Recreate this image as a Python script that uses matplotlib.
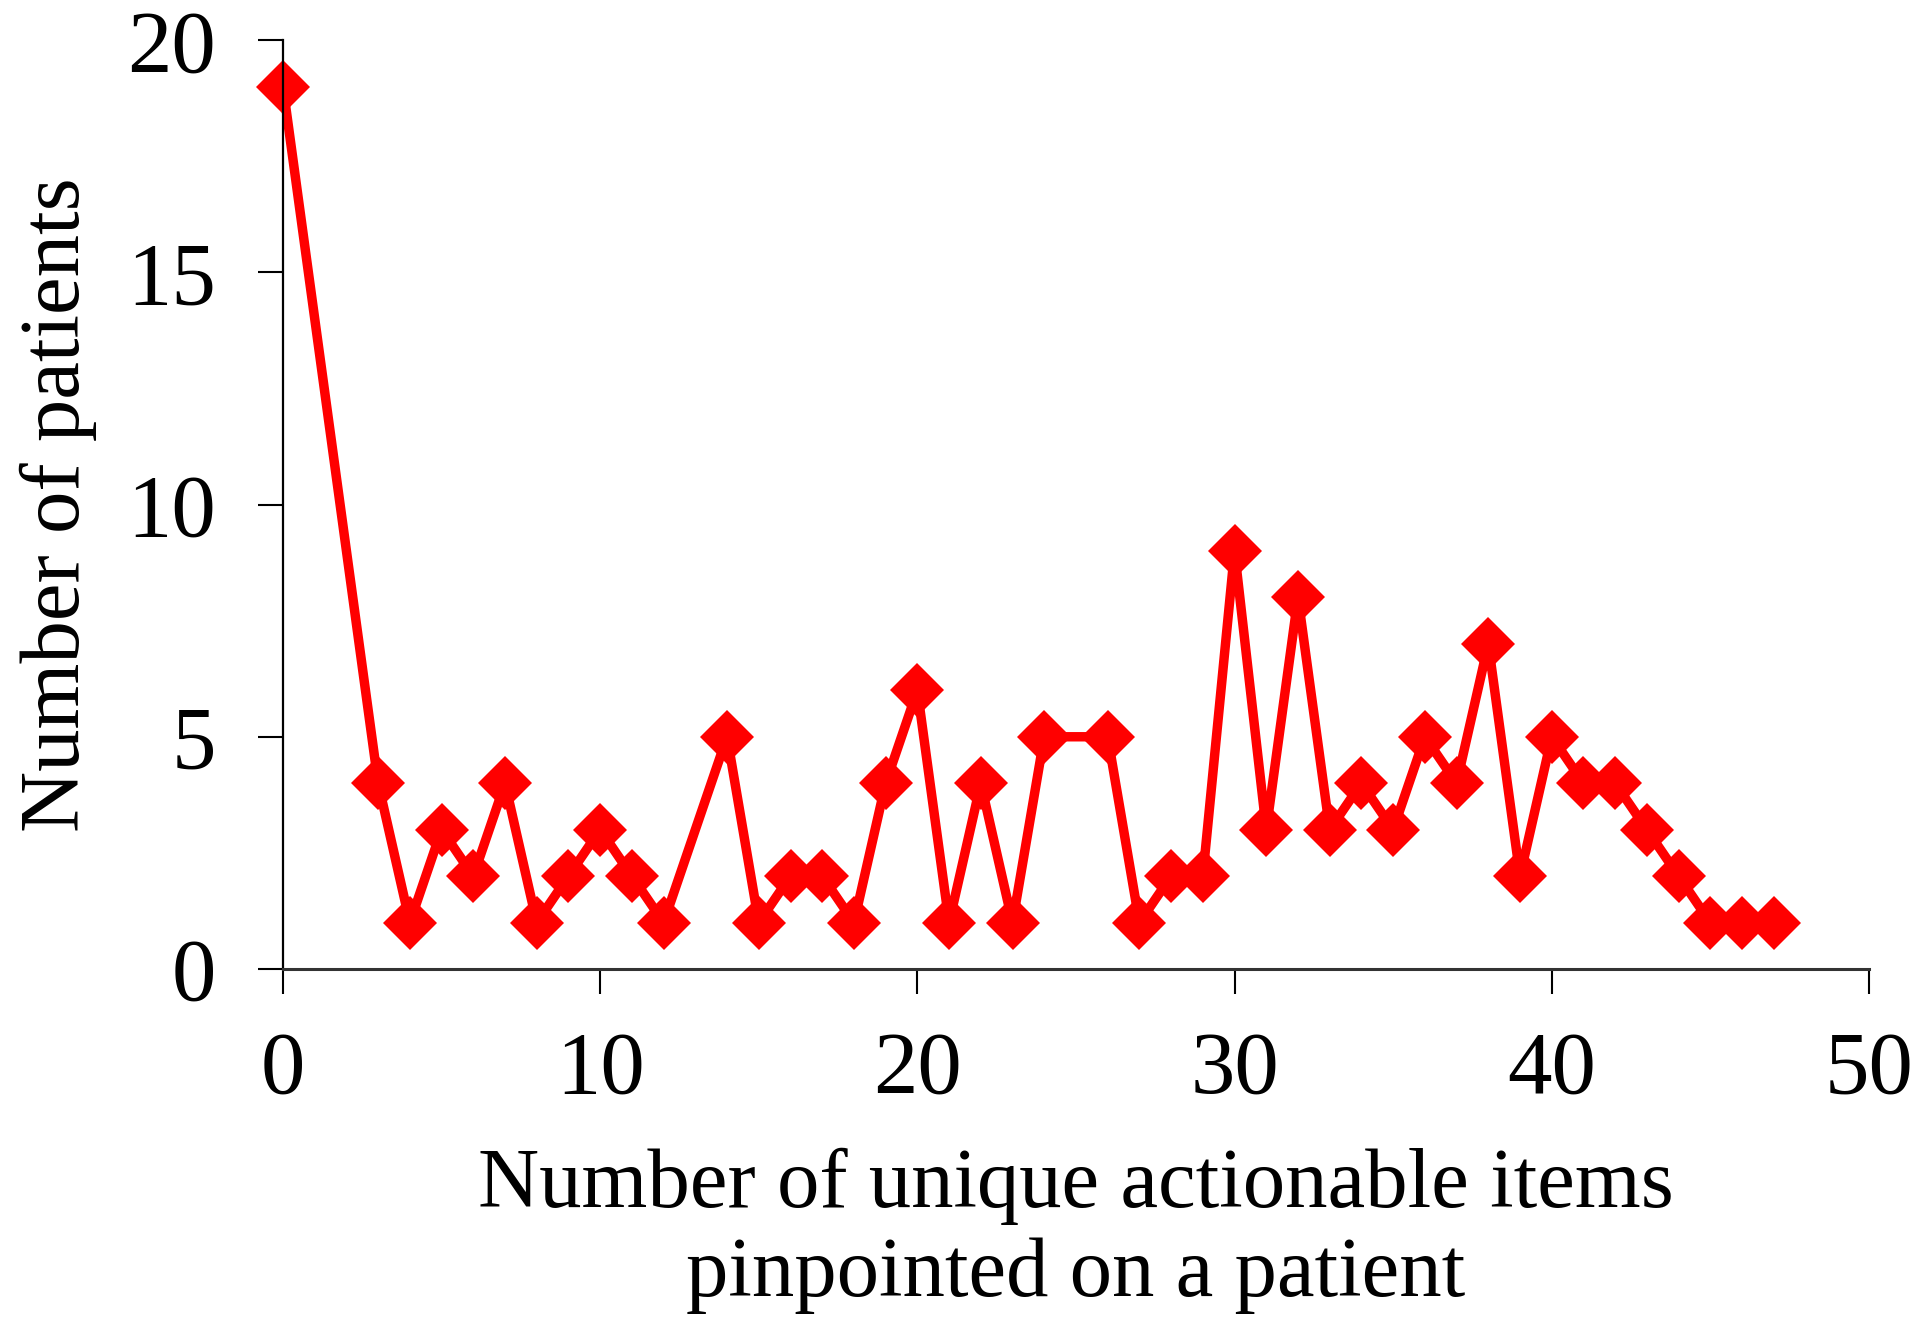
import matplotlib.pyplot as plt

# items pinpointed per patient -> number of patients
items = [0, 3, 4, 5, 6, 7, 8, 9, 10, 11, 12, 14, 15, 16, 17, 18, 19, 20,
         21, 22, 23, 24, 26, 27, 28, 29, 30, 31, 32, 33, 34, 35, 36, 37, 38,
         39, 40, 41, 42, 43, 44, 45, 46, 47]
patients = [19, 4, 1, 3, 2, 4, 1, 2, 3, 2, 1, 5, 1, 2, 2, 1, 4, 6,
            1, 4, 1, 5, 5, 1, 2, 2, 9, 3, 8, 3, 4, 3, 5, 4, 7,
            2, 5, 4, 4, 3, 2, 1, 1, 1]

x_ticks = [0, 10, 20, 30, 40, 50]
y_ticks = [0, 5, 10, 15, 20]

plt.rcParams["font.family"] = ["Liberation Serif", "DejaVu Serif"]

fig = plt.figure(figsize=(19.2, 13.36), dpi=100)
ax = fig.add_axes([0.1474, 0.2747, 0.826, 0.6953])

ax.plot(items, patients, color="#ff0000", linewidth=6.8, marker="D",
        markersize=28, markeredgewidth=0, clip_on=False)

ax.set_xlim(0, 50)
ax.set_ylim(0, 20)
ax.set_xticks(x_ticks)
ax.set_yticks(y_ticks)

for side in ("top", "right"):
    ax.spines[side].set_visible(False)
ax.spines["left"].set_linewidth(1.6)
ax.spines["bottom"].set_linewidth(2.2)
ax.spines["bottom"].set_color("#333333")

ax.tick_params(axis="both", direction="out", length=18, width=1.5,
               labelsize=64)
ax.tick_params(axis="y", pad=30)
ax.tick_params(axis="x", pad=26)

ax.set_ylabel("Number of patients", fontsize=61, labelpad=22)
ax.set_xlabel("Number of unique actionable items\npinpointed on a patient",
              fontsize=61, labelpad=26, linespacing=1.22)

fig.savefig("out.png", dpi=100)
